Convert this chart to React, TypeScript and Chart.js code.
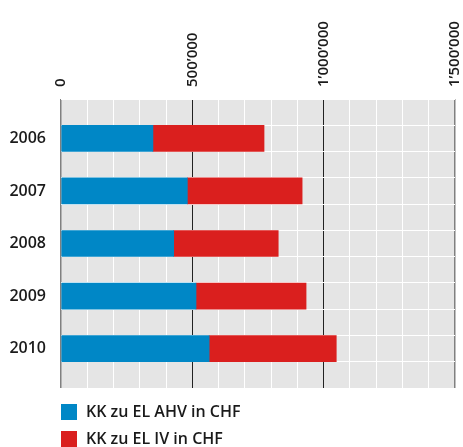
import React, { useEffect, useRef } from "react";
import { Chart, registerables } from "chart.js";

Chart.register(...registerables);

const years = [2006, 2007, 2008, 2009, 2010];
const ahvValues = [350000, 481000, 429000, 514000, 564000];
const ivValues = [423000, 437000, 398000, 419000, 484000];
const seriesLabels = ["KK zu EL AHV in CHF", "KK zu EL IV in CHF"];
const seriesColors = ["#0087C6", "#DA1F1E"];
const xTickValues = [0, 500000, 1000000, 1500000];
const xTickLabels = ["0", "500\u2019000", "1\u2019000\u2019000", "1\u2019500\u2019000"];

const FONT = "'Open Sans', 'Noto Sans', sans-serif";
const TEXT = "#1a1a1a";

const bgPlugin = {
  id: "plotBg",
  beforeDraw(chart: any) {
    const { ctx, chartArea: a } = chart;
    ctx.save();
    ctx.fillStyle = "#E5E5E5";
    ctx.fillRect(a.left, a.top, a.right - a.left, a.bottom - a.top);
    ctx.restore();
  },
};

const legendPlugin = {
  id: "stackLegend",
  afterDraw(chart: any) {
    const { ctx, chartArea: a } = chart;
    ctx.save();
    ctx.font = `600 16px ${FONT}`;
    ctx.textBaseline = "middle";
    ctx.textAlign = "left";
    chart.data.datasets.forEach((ds: any, i: number) => {
      const y = a.bottom + 16 + i * 27;
      ctx.fillStyle = ds.backgroundColor;
      ctx.fillRect(a.left, y, 16, 16);
      ctx.fillStyle = TEXT;
      ctx.fillText(ds.label, a.left + 25, y + 8);
    });
    ctx.restore();
  },
};

export default function App() {
  const ref = useRef<HTMLCanvasElement | null>(null);

  useEffect(() => {
    document.body.style.margin = "0";
    if (!ref.current) return;
    const yTicks: number[] = [];
    years.forEach((yr) => {
      yTicks.push(yr - 0.75, yr - 0.25, yr);
    });
    yTicks.push(years[years.length - 1] + 0.25, years[years.length - 1] + 0.75);
    const isYear = (v: number) => Math.abs(v - Math.round(v)) < 1e-6;

    const chart = new Chart(ref.current, {
      type: "bar",
      data: {
        datasets: [
          {
            label: seriesLabels[0],
            data: years.map((y, i) => ({ x: ahvValues[i], y })),
            backgroundColor: seriesColors[0],
            stack: "s",
            barThickness: 26,
          },
          {
            label: seriesLabels[1],
            data: years.map((y, i) => ({ x: ivValues[i], y })),
            backgroundColor: seriesColors[1],
            stack: "s",
            barThickness: 26,
          },
        ],
      },
      options: {
        indexAxis: "y",
        animation: false,
        responsive: true,
        maintainAspectRatio: false,
        layout: { padding: { left: 0, right: 8, top: 0, bottom: 59 } },
        plugins: { legend: { display: false }, tooltip: { enabled: false } },
        scales: {
          x: {
            type: "linear",
            position: "top",
            stacked: true,
            offset: false,
            min: 0,
            max: 1500000,
            afterFit: (s: any) => {
              s.height = 99;
              s.paddingLeft = 0;
              s.paddingRight = 0;
            },
            afterBuildTicks: (s: any) => {
              const t: any[] = [];
              for (let v = 0; v <= 1500000; v += 100000) t.push({ value: v });
              s.ticks = t;
            },
            border: { display: false },
            grid: {
              offset: false,
              drawTicks: false,
              lineWidth: (c: any) => {
                const v = c.tick ? c.tick.value : 0;
                return v === 0 || v === 1500000 ? 1.5 : 1;
              },
              color: (c: any) => {
                const v = c.tick ? c.tick.value : 0;
                if (v === 0 || v === 1500000) return "#808080";
                if (v === 500000 || v === 1000000) return "#222222";
                return "#FFFFFF";
              },
            },
            ticks: {
              autoSkip: false,
              minRotation: 90,
              maxRotation: 90,
              padding: 12,
              labelOffset: 18,
              color: TEXT,
              font: { family: FONT, size: 15, weight: 600 },
              callback: (v: any) => {
                const idx = xTickValues.indexOf(Number(v));
                return idx >= 0 ? xTickLabels[idx] : "";
              },
            },
          },
          y: {
            type: "linear",
            reverse: true,
            offset: false,
            min: years[0] - 0.75,
            max: years[years.length - 1] + 0.75,
            afterFit: (s: any) => {
              s.width = 61;
              s.paddingTop = 0;
              s.paddingBottom = 0;
            },
            afterBuildTicks: (s: any) => {
              s.ticks = yTicks.map((v) => ({ value: v }));
            },
            border: { display: false },
            grid: {
              offset: false,
              drawTicks: false,
              color: (c: any) => {
                const v = c.tick ? c.tick.value : 0;
                return isYear(v) ? "rgba(0,0,0,0)" : "#FFFFFF";
              },
            },
            ticks: {
              autoSkip: false,
              padding: 15,
              color: TEXT,
              font: { family: FONT, size: 16, weight: 600 },
              callback: (v: any) => (isYear(Number(v)) ? String(Math.round(Number(v))) : ""),
            },
          },
        },
      } as any,
      plugins: [bgPlugin, legendPlugin],
    });
    return () => chart.destroy();
  }, []);

  return (
    <div style={{ position: "relative", width: 463, height: 447 }}>
      <canvas ref={ref} />
    </div>
  );
}
